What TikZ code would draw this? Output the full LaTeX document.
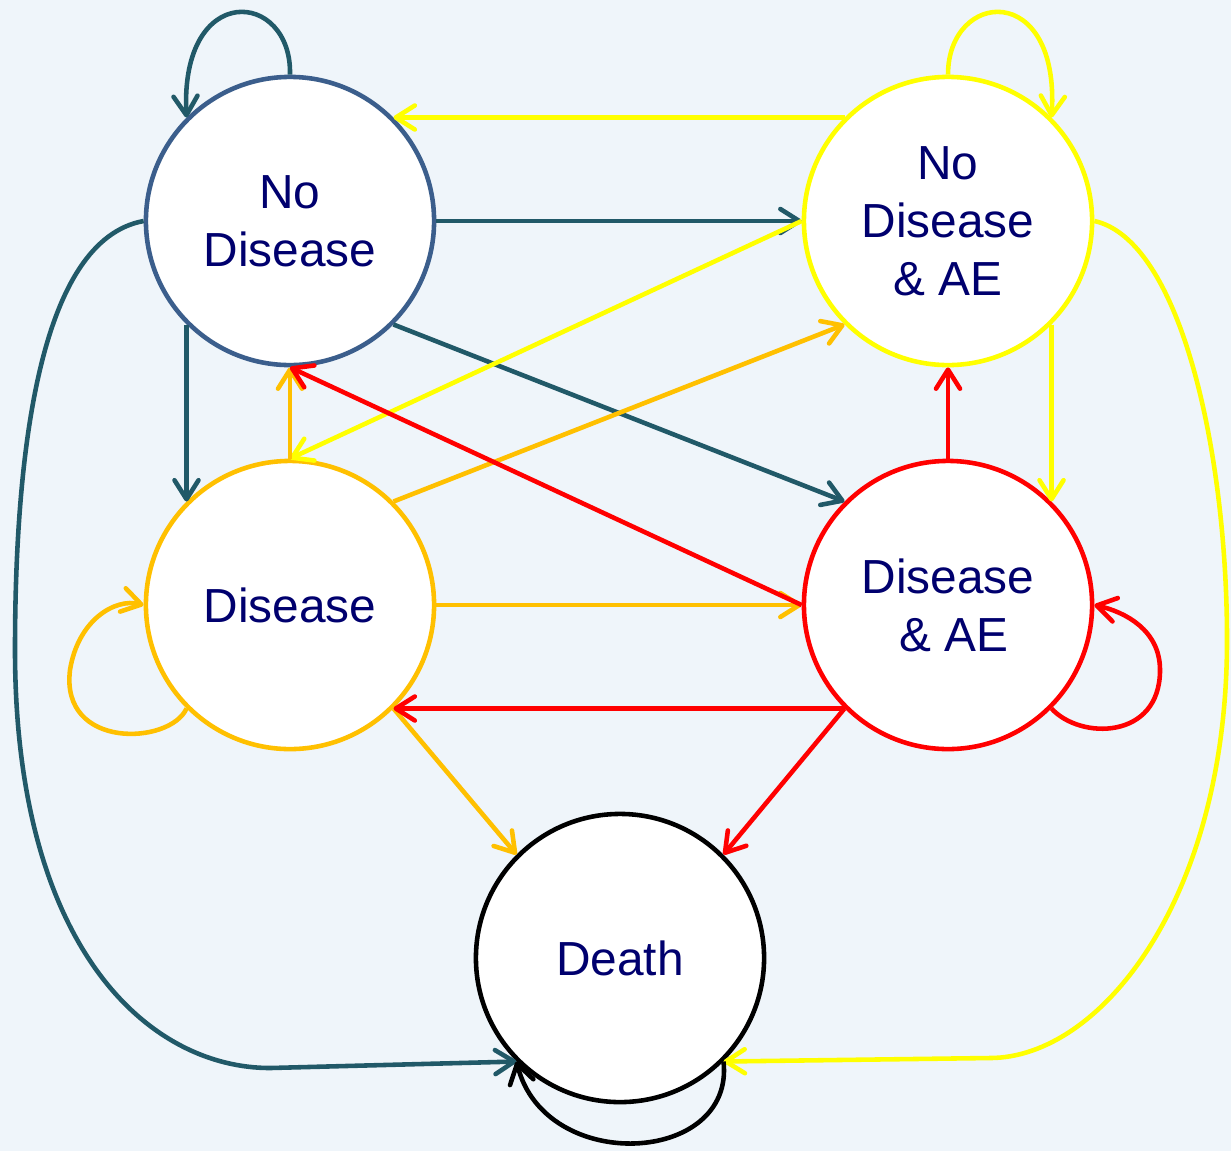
\documentclass[tikz,border=0pt]{standalone}
\usepackage{fontspec}
\setmainfont{Liberation Sans}
\usetikzlibrary{arrows.meta}
\definecolor{custom-bg}{RGB}{239, 245, 250}
\definecolor{custom-navy}{RGB}{0, 0, 110}
\definecolor{custom-steel}{RGB}{59, 94, 140}
\definecolor{custom-teal}{RGB}{33, 89, 104}
\definecolor{custom-yellow}{RGB}{255, 255, 0}
\definecolor{custom-orange}{RGB}{255, 192, 0}
\definecolor{custom-red}{RGB}{255, 0, 0}

\begin{document}
\begin{tikzpicture}[x=0.01cm, y=-0.01cm,
    state/.style={circle, draw, fill=white, line width=1.3pt, minimum size=2.88cm, inner sep=0pt,
        align=center, text=custom-navy, font=\fontsize{13.6}{16.5}\selectfont},
    edge/.style={line width=1.3pt, -{Straight Barb[length=1.9mm, width=2.4mm, round]}}]
\fill[custom-bg] (0,0) rectangle (1231,1151);
\useasboundingbox (0,0) rectangle (1231,1151);

\node[state, draw=custom-steel] (nd) at (290,221) {No\\Disease};
\node[state, draw=custom-yellow] (ndae) at (948,221) {No\\Disease\\\& AE};
\node[state, draw=custom-orange] (d) at (290,605) {Disease};
\node[state, draw=custom-red] (dae) at (948,605) {Disease\\\hspace*{0.12cm}\& AE};
\node[state, draw=black] (death) at (620,958) {Death};

% no disease
\draw[edge, custom-teal] (nd.90) .. controls (292,-10) and (180,-20) .. (nd.135);
\draw[edge, custom-teal] (nd.0) -- (ndae.180);
\draw[edge, custom-teal] (nd.-45) -- (dae.135);
\draw[edge, custom-teal] (nd.225) -- (d.135);
\draw[edge, custom-teal] (nd.180) .. controls (40,240) and (15,450) .. (15,650)
    .. controls (15,950) and (150,1068) .. (270,1068) -- (death.225);

% no disease & AE
\draw[edge, custom-yellow] (ndae.90) .. controls (948,-10) and (1060,-20) .. (ndae.45);
\draw[edge, custom-yellow] (ndae.135) -- (nd.45);
\draw[edge, custom-yellow] (ndae.180) -- (d.90);
\draw[edge, custom-yellow] (ndae.-45) -- (dae.45);
\draw[edge, custom-yellow] (ndae.0) .. controls (1180,240) and (1227,450) .. (1227,640)
    .. controls (1227,900) and (1100,1058) .. (990,1058) -- (death.-45);

% disease
\draw[edge, custom-orange] (d.225) .. controls (170,745) and (60,750) .. (70,670)
    .. controls (78,620) and (115,598) .. (d.180);
\draw[edge, custom-orange] (d.90) -- (nd.270);
\draw[edge, custom-orange] (d.45) -- (ndae.225);
\draw[edge, custom-orange] (d.0) -- (dae.180);
\draw[edge, custom-orange] (d.-45) -- (death.135);

% disease & AE
\draw[edge, custom-red] (dae.-45) .. controls (1080,740) and (1160,740) .. (1160,670)
    .. controls (1160,630) and (1125,612) .. (dae.0);
\draw[edge, custom-red] (dae.90) -- (ndae.270);
\draw[edge, custom-red] (dae.180) -- (nd.270);
\draw[edge, custom-red] (dae.225) -- (d.-45);
\draw[edge, custom-red] (dae.225) -- (death.45);

% death
\draw[edge, black] (death.-45) .. controls (735,1165) and (545,1175) .. (death.225);
\end{tikzpicture}
\end{document}
